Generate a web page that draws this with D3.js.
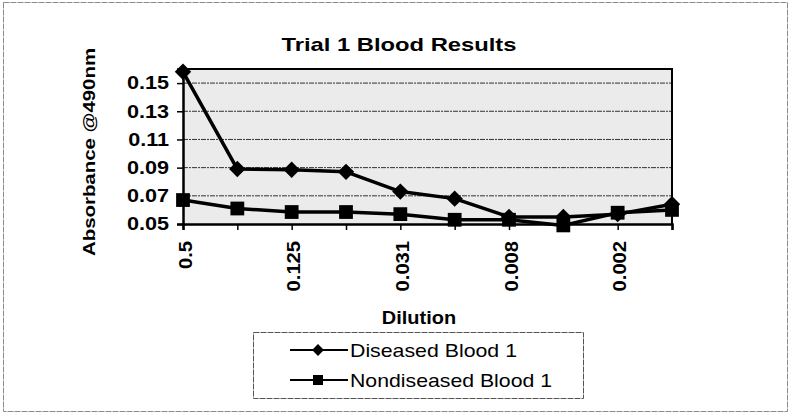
<!DOCTYPE html>
<html>
<head>
<meta charset="utf-8">
<script src="https://cdn.jsdelivr.net/npm/d3@7"></script>
<style>
  html, body { margin: 0; padding: 0; background: #fff; }
  svg { display: block; font-family: Arial, "Liberation Sans", sans-serif; }
</style>
</head>
<body>
<svg id="chart" width="791" height="414"></svg>
<script>
const categories = ["0.5","0.25","0.125","0.0625","0.031","0.0156","0.008","0.0039","0.002","0.00098"];
const shownLabels = ["0.5","0.125","0.031","0.008","0.002"];
const diseased    = [0.158, 0.089, 0.0885, 0.087, 0.073, 0.068, 0.055, 0.055, 0.057, 0.064];
const nondiseased = [0.067, 0.061, 0.0585, 0.0585, 0.057, 0.053, 0.053, 0.049, 0.058, 0.060];
const yTicks = [0.05, 0.07, 0.09, 0.11, 0.13, 0.15];
const seriesNames = ["Diseased Blood 1", "Nondiseased Blood 1"];
const titleText = "Trial 1 Blood Results";
const yTitle = "Absorbance @490nm";
const xTitle = "Dilution";

const svg = d3.select("#chart");
const W = 791, H = 414;
const m = { left: 183, right: 672, top: 69, bottom: 224 };

function stretch(sel, f) {
  sel.each(function () {
    const w = this.getComputedTextLength();
    d3.select(this).attr("textLength", w * f).attr("lengthAdjust", "spacingAndGlyphs");
  });
}

svg.append("rect").attr("x", 3.5).attr("y", 2.5).attr("width", W - 7).attr("height", H - 5)
  .attr("fill", "none").attr("stroke", "#8a8a8a").attr("stroke-width", 1).attr("stroke-dasharray", "6,1");

const x = d3.scalePoint().domain(categories).range([m.left, m.right]);
const y = d3.scaleLinear().domain([0.05, 0.16]).range([m.bottom, m.top]);

svg.append("rect").attr("x", m.left).attr("y", m.top)
  .attr("width", m.right - m.left).attr("height", m.bottom - m.top)
  .attr("fill", "#ebebeb");

svg.append("g").selectAll("line").data(yTicks.filter(d => d > 0.05)).join("line")
  .attr("x1", m.left).attr("x2", m.right)
  .attr("y1", d => y(d)).attr("y2", d => y(d))
  .attr("stroke", "#333").attr("stroke-width", 1).attr("stroke-dasharray", "5,1,2,1");

svg.append("path")
  .attr("d", `M${m.left},${m.top}H${m.right}V${m.bottom}`)
  .attr("fill", "none").attr("stroke", "#000").attr("stroke-width", 2);

const yAxis = svg.append("g").attr("transform", `translate(${m.left},0)`)
  .call(d3.axisLeft(y).tickValues(yTicks).tickFormat(d3.format(".2f")).tickSize(6).tickPadding(8));
yAxis.select(".domain").attr("stroke", "#000").attr("stroke-width", 2.5);
yAxis.selectAll(".tick line").attr("stroke", "#000").attr("stroke-width", 1.5);
yAxis.selectAll(".tick text").attr("font-size", 18).attr("font-weight", "bold").attr("fill", "#000")
  .attr("font-family", "Arial, 'Liberation Sans', sans-serif");
stretch(yAxis.selectAll(".tick text"), 1.2);

const xAxis = svg.append("g").attr("transform", `translate(0,${m.bottom})`)
  .call(d3.axisBottom(x).tickSize(6).tickFormat(d => shownLabels.includes(d) ? d : ""));
xAxis.select(".domain").attr("stroke", "#000").attr("stroke-width", 2.5);
xAxis.selectAll(".tick line").attr("stroke", "#000").attr("stroke-width", 1.5);
xAxis.selectAll(".tick text")
  .attr("font-size", 18).attr("font-weight", "bold").attr("fill", "#000")
  .attr("font-family", "Arial, 'Liberation Sans', sans-serif")
  .attr("text-anchor", "end")
  .attr("transform", "rotate(-90)")
  .attr("x", -17).attr("y", 2).attr("dy", "0.35em");
stretch(xAxis.selectAll(".tick text"), 1.12);

const line = d3.line().x((d, i) => x(categories[i])).y(d => y(d));
[nondiseased, diseased].forEach(s => {
  svg.append("path").datum(s).attr("d", line)
    .attr("fill", "none").attr("stroke", "#000").attr("stroke-width", 3.5).attr("stroke-linejoin", "round");
});

const square = d3.symbol().type(d3.symbolSquare).size(190);
const diamond = d3.symbol().type(d3.symbolSquare).size(135);
svg.append("g").selectAll("path").data(nondiseased).join("path")
  .attr("d", square).attr("transform", (d, i) => `translate(${x(categories[i])},${y(d)})`).attr("fill", "#000");
svg.append("g").selectAll("path").data(diseased).join("path")
  .attr("d", diamond).attr("transform", (d, i) => `translate(${x(categories[i])},${y(d)}) rotate(45)`).attr("fill", "#000");

const t = svg.append("text").attr("x", 399).attr("y", 51).attr("text-anchor", "middle")
  .attr("font-size", 19).attr("font-weight", "bold").text(titleText);
stretch(t, 1.25);

const yt = svg.append("text").attr("transform", "translate(95,152) rotate(-90)")
  .attr("text-anchor", "middle").attr("font-size", 17).attr("font-weight", "bold").text(yTitle);
stretch(yt, 1.2);

const xt = svg.append("text").attr("x", 419).attr("y", 324).attr("text-anchor", "middle")
  .attr("font-size", 19).attr("font-weight", "bold").text(xTitle);
stretch(xt, 1.05);

const lg = svg.append("g");
lg.append("rect").attr("x", 253.5).attr("y", 332.5).attr("width", 330).attr("height", 66)
  .attr("fill", "#fff").attr("stroke", "#555").attr("stroke-width", 1).attr("stroke-dasharray", "6,1");
const legendRows = [
  { name: seriesNames[0], y: 350, len: 167, rot: 45, size: 70 },
  { name: seriesNames[1], y: 380, len: 202, rot: 0, size: 100 }
];
legendRows.forEach(r => {
  lg.append("line").attr("x1", 290).attr("x2", 348).attr("y1", r.y).attr("y2", r.y)
    .attr("stroke", "#000").attr("stroke-width", 2);
  lg.append("path").attr("d", d3.symbol().type(d3.symbolSquare).size(r.size)())
    .attr("transform", `translate(318,${r.y}) rotate(${r.rot})`).attr("fill", "#000");
  lg.append("text").attr("x", 350).attr("y", r.y).attr("dy", "0.36em")
    .attr("font-size", 19).attr("fill", "#000").text(r.name)
    .attr("textLength", r.len).attr("lengthAdjust", "spacingAndGlyphs");
});
</script>
</body>
</html>
